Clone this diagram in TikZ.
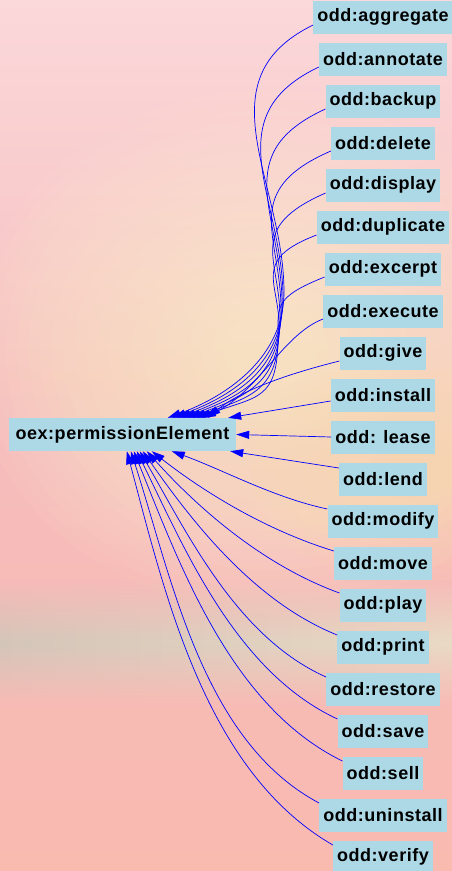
\documentclass[tikz,border=0pt]{standalone}
\usepackage{fontspec}
\setmainfont{Liberation Sans}
\newfontfamily\permfont[LetterSpace=3]{Liberation Sans}
\usetikzlibrary{arrows.meta,fadings}
\definecolor{nodeblue}{RGB}{173,216,230}
\definecolor{skytop}{RGB}{251,216,218}
\definecolor{skymid}{RGB}{246,188,188}
\definecolor{skylow}{RGB}{249,186,176}
\definecolor{sunglow}{RGB}{254,240,208}
\definecolor{sunyellow}{RGB}{253,228,172}
\definecolor{seagray}{RGB}{212,198,186}
\tikzfading[name=bandfade, top color=transparent!100, bottom color=transparent!100, middle color=transparent!0]
\tikzset{
  perm/.style={fill=nodeblue, inner xsep=4pt, inner ysep=0pt, minimum height=33pt,
    font=\permfont\bfseries\fontsize{18}{21}\selectfont},
  link/.style={blue, line width=0.7pt, -{Triangle[length=13pt,width=8pt]}},
}
\begin{document}
\begin{tikzpicture}[x=1pt,y=1pt]
	\useasboundingbox (0,0) rectangle (452,-871);
	\fill[top color=skytop, bottom color=skylow, middle color=skymid] (0,0) rectangle (452,-871);
	\foreach \r in {260,250,...,20} \fill[sunglow, opacity=0.06] (270,-350) ellipse ({1.15*\r} and \r);
	\foreach \r in {140,130,...,20} \fill[sunyellow, opacity=0.06] (420,-470) ellipse ({1.3*\r} and {0.8*\r});
	\shade[left color=seagray, right color=sunglow!50!seagray, path fading=bandfade] (0,-580) rectangle (452,-705);
	\node[perm, minimum width=227pt] (main) at (122.5,-434.5) {oex:permissionElement};
	\foreach \name [count=\i from 0] in {aggregate,annotate,backup,delete,display,duplicate,excerpt,execute,give,install}
		\node[perm] (\name) at (383,-17-42*\i) {odd:\name};
	\node[perm] (lease) at (383,-437) {odd: lease};
	\foreach \name [count=\i from 11] in {lend,modify,move,play,print,restore,save,sell,uninstall,verify}
		\node[perm] (\name) at (383,-17-42*\i) {odd:\name};
	\foreach \name/\mx/\my/\cx/\cy/\h/\tx [count=\k from 0] in {aggregate/284/292/112/55/110/159, annotate/283/298/105/50/100/164, backup/282/304/98/45/90/169, delete/281/310/92/40/75/174, display/280/318/80/35/60/179, duplicate/279/326/65/25/45/184, excerpt/278/336/50/20/30/189}{
		\coordinate (bend\k) at (\mx,-\my);
		\draw[link] ([yshift=-8pt]\name.west) .. controls +(-\cx,-\cy) and +(0,\h) .. (bend\k) .. controls +(0,-65) and +(60,22) .. ([xshift=\tx pt]main.north west);
	}
	\draw[link] ([yshift=-8pt]execute.west) .. controls +(-40,-15) and +(55,25) .. ([xshift=194pt]main.north west);
	\draw[link] ([yshift=-8pt]give.west) .. controls +(-60,-15) and +(30,25) .. ([xshift=199pt]main.north west);
	\draw[link] ([yshift=-6pt]install.west) -- ([xshift=-8pt]main.north east);
	\draw[link] (lease.west) -- (main.east);
	\draw[link] ([yshift=11pt]lend.west) -- ([xshift=-6pt]main.south east);
	\foreach \name/\o/\a/\tx in {modify/168/-20/163, move/163/-38/143, play/160/-48/138, print/158/-55/134, restore/156/-60/131, save/155/-64/128, sell/154/-68/125, uninstall/152/-72/122, verify/150/-75/118}
		\draw[link] ([yshift=12pt]\name.west) to[out=\o, in=\a, looseness=0.85] ([xshift=\tx pt]main.south west);
\end{tikzpicture}
\end{document}
